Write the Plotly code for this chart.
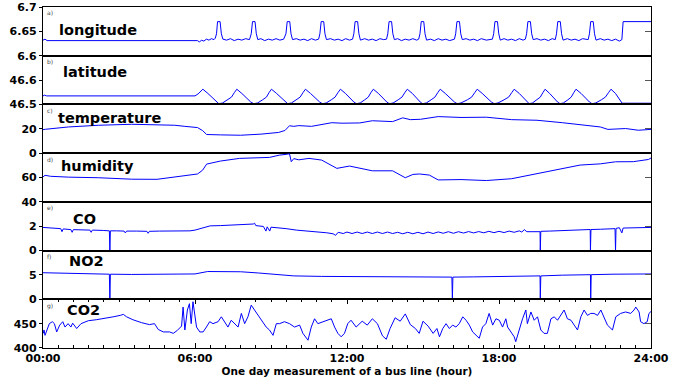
import plotly.graph_objects as go

# ---------------- data (hours since 00:00, measured values) ----------------
lon_hours = [0.00, 0.08, 0.16, 2.0, 4.0, 5.9, 6.10, 6.18, 6.25, 6.35, 6.45, 6.55, 6.65, 6.75, 6.80,
             6.85, 6.89, 6.99, 7.04, 7.10, 7.25, 7.40, 7.55, 7.70, 7.85, 8.00, 8.15,
             8.22, 8.27, 8.37, 8.42, 8.48, 8.60, 8.75, 8.90, 9.05, 9.20, 9.35, 9.50,
             9.59, 9.64, 9.74, 9.79, 9.85, 10.00, 10.15, 10.30, 10.45, 10.60, 10.75, 10.88,
             10.93, 10.98, 11.08, 11.13, 11.19, 11.35, 11.50, 11.65, 11.80, 11.95, 12.10, 12.22,
             12.27, 12.32, 12.42, 12.47, 12.53, 12.70, 12.85, 13.00, 13.15, 13.30, 13.45, 13.56,
             13.61, 13.66, 13.76, 13.81, 13.87, 14.00, 14.15, 14.30, 14.45, 14.60, 14.75, 14.83,
             14.88, 14.93, 15.03, 15.08, 15.14, 15.30, 15.45, 15.60, 15.75, 15.90, 16.05, 16.24,
             16.29, 16.34, 16.44, 16.49, 16.55, 16.70, 16.85, 17.00, 17.15, 17.30, 17.50, 17.74,
             17.79, 17.84, 17.94, 17.99, 18.05, 18.20, 18.35, 18.50, 18.65, 18.80, 18.95, 19.04,
             19.09, 19.14, 19.24, 19.29, 19.35, 19.50, 19.65, 19.80, 19.95, 20.10, 20.22,
             20.27, 20.32, 20.42, 20.47, 20.53, 20.70, 20.85, 21.00, 21.15, 21.30, 21.52,
             21.57, 21.62, 21.72, 21.77, 21.83, 22.00, 22.15, 22.30, 22.45, 22.60, 22.75, 22.85,
             22.90, 24.00]
lon_values = [6.632, 6.634, 6.631, 6.631, 6.631, 6.631, 6.631, 6.628, 6.632, 6.630, 6.634, 6.632, 6.635, 6.633, 6.636,
              6.645, 6.670, 6.670, 6.645, 6.634, 6.632, 6.635, 6.631, 6.634, 6.632, 6.635, 6.633,
              6.645, 6.670, 6.670, 6.645, 6.633, 6.635, 6.631, 6.634, 6.632, 6.635, 6.632, 6.634,
              6.645, 6.670, 6.670, 6.645, 6.633, 6.635, 6.632, 6.634, 6.631, 6.635, 6.632, 6.634,
              6.645, 6.670, 6.670, 6.645, 6.633, 6.635, 6.632, 6.634, 6.631, 6.635, 6.632, 6.634,
              6.645, 6.670, 6.670, 6.645, 6.632, 6.635, 6.632, 6.634, 6.631, 6.635, 6.633, 6.634,
              6.645, 6.670, 6.670, 6.645, 6.633, 6.635, 6.631, 6.634, 6.632, 6.635, 6.632, 6.634,
              6.645, 6.670, 6.670, 6.645, 6.632, 6.634, 6.631, 6.635, 6.632, 6.634, 6.631, 6.634,
              6.645, 6.670, 6.670, 6.645, 6.633, 6.635, 6.632, 6.634, 6.631, 6.635, 6.632, 6.634,
              6.645, 6.670, 6.670, 6.645, 6.632, 6.635, 6.632, 6.634, 6.631, 6.635, 6.632, 6.634,
              6.645, 6.670, 6.670, 6.645, 6.633, 6.635, 6.632, 6.634, 6.631, 6.635, 6.633,
              6.645, 6.670, 6.670, 6.645, 6.632, 6.635, 6.632, 6.634, 6.631, 6.635, 6.633,
              6.645, 6.670, 6.670, 6.645, 6.632, 6.635, 6.632, 6.634, 6.631, 6.634, 6.630, 6.633,
              6.670, 6.670]

lat_hours = [0.00, 0.06, 0.14, 6.00, 6.12, 6.22, 6.31,
             6.51, 6.71, 6.86, 6.94, 7.09, 7.29, 7.44, 7.55, 7.65,
             7.85, 8.05, 8.20, 8.32, 8.47, 8.67, 8.82, 8.92, 9.02,
             9.22, 9.42, 9.56, 9.66, 9.81, 10.00, 10.15, 10.26, 10.36,
             10.56, 10.76, 10.92, 11.03, 11.18, 11.38, 11.53, 11.64, 11.74,
             11.94, 12.12, 12.27, 12.37, 12.52, 12.70, 12.84, 12.94, 13.04,
             13.24, 13.42, 13.57, 13.67, 13.82, 14.02, 14.17, 14.28, 14.38,
             14.58, 14.76, 14.89, 14.98, 15.13, 15.32, 15.47, 15.58, 15.68,
             15.88, 16.08, 16.24, 16.35, 16.50, 16.75, 16.92, 17.04, 17.14,
             17.34, 17.54, 17.70, 17.81, 17.96, 18.20, 18.38, 18.50, 18.60,
             18.80, 18.98, 19.10, 19.19, 19.32, 19.50, 19.63, 19.73, 19.82,
             20.00, 20.17, 20.31, 20.41, 20.54, 20.72, 20.85, 20.95, 21.04,
             21.24, 21.42, 21.57, 21.67, 21.82, 22.04, 22.20, 22.32, 22.42,
             22.60, 22.72, 22.80, 22.86, 24.00]
lat_values = [46.535, 46.538, 46.535, 46.535, 46.543, 46.552, 46.5625,
              46.545, 46.524, 46.510, 46.503, 46.506, 46.519, 46.530, 46.548, 46.5625,
              46.545, 46.524, 46.510, 46.503, 46.506, 46.519, 46.530, 46.548, 46.5625,
              46.545, 46.524, 46.510, 46.503, 46.506, 46.519, 46.530, 46.548, 46.5625,
              46.545, 46.524, 46.510, 46.503, 46.506, 46.519, 46.530, 46.548, 46.5625,
              46.545, 46.524, 46.510, 46.503, 46.506, 46.519, 46.530, 46.548, 46.5625,
              46.545, 46.524, 46.510, 46.503, 46.506, 46.519, 46.530, 46.548, 46.5625,
              46.545, 46.524, 46.510, 46.503, 46.506, 46.519, 46.530, 46.548, 46.5625,
              46.545, 46.524, 46.510, 46.503, 46.506, 46.519, 46.530, 46.548, 46.5625,
              46.545, 46.524, 46.510, 46.503, 46.506, 46.519, 46.530, 46.548, 46.5625,
              46.545, 46.524, 46.510, 46.503, 46.506, 46.519, 46.530, 46.548, 46.5625,
              46.545, 46.524, 46.510, 46.503, 46.506, 46.519, 46.530, 46.548, 46.5625,
              46.545, 46.524, 46.510, 46.503, 46.506, 46.519, 46.530, 46.548, 46.5625,
              46.545, 46.524, 46.510, 46.505, 46.505]

temp_hours = [0.0, 0.1, 1.0, 2.2, 3.5, 4.5, 5.2, 5.6, 6.1, 6.3, 6.46, 7.0, 7.8, 8.6, 9.3, 9.55, 9.73,
              9.9, 10.1, 10.6, 11.0, 11.4, 11.8, 12.5, 13.0, 13.5, 13.8, 14.2, 14.5, 14.9, 15.6,
              16.5, 17.5, 18.5, 19.5, 20.5, 21.0, 21.5, 22.0, 22.3, 23.0, 23.5, 24.0]
temp_values = [19.3, 19.6, 21.5, 22.9, 23.7, 23.5, 22.9, 22.0, 21.0, 18.5, 15.3, 15.0, 14.7, 15.6, 17.0, 18.6, 22.5,
               22.0, 22.6, 22.0, 23.5, 25.0, 24.6, 24.8, 26.6, 26.4, 25.9, 29.0, 27.5, 27.8, 30.0,
               29.3, 29.5, 27.5, 27.0, 25.0, 24.0, 22.5, 21.5, 19.5, 20.2, 18.8, 19.5]

hum_hours = [0.0, 0.08, 0.3, 1.0, 2.2, 3.5, 4.5, 5.4, 6.1, 6.3, 6.46, 7.0, 7.76, 8.94, 9.34, 9.6, 9.73,
             9.8, 9.9, 10.1, 10.5, 11.0, 11.3, 11.6, 12.1, 12.6, 13.0, 13.8, 14.3, 14.6, 14.86, 15.25,
             15.6, 16.5, 17.5, 18.5, 19.6, 20.3, 21.2, 22.0, 22.6, 23.3, 23.9, 24.0]
hum_values = [60.5, 61.8, 61.0, 60.3, 59.8, 58.6, 58.5, 61.0, 62.9, 66.0, 71.0, 73.5, 75.7, 76.5, 78.4, 79.0, 79.5,
              73.0, 75.5, 74.5, 75.7, 74.3, 71.0, 67.5, 69.4, 67.0, 65.5, 65.5, 59.8, 62.5, 62.9, 62.0,
              58.0, 58.3, 57.5, 59.0, 63.4, 66.0, 70.2, 71.2, 72.9, 73.0, 74.8, 76.0]

co_hours = [0.00, 0.40, 0.55, 0.70, 0.75, 0.80, 1.10, 1.15, 1.20, 1.50, 1.85, 1.90, 1.95, 2.40, 2.62, 2.64, 2.66,
            2.90, 3.20, 3.25, 3.30, 3.70, 4.10, 4.15, 4.20, 4.60, 5.00, 5.40, 5.80, 6.00, 6.30, 6.60,
            7.00, 7.50, 8.00, 8.30, 8.35, 8.40, 8.70, 8.80, 8.85, 8.95, 9.00, 9.40, 9.60, 10.00, 10.40,
            10.80, 11.20, 11.45, 11.55, 11.65, 11.85, 12.00, 12.20, 12.40, 12.60, 12.80, 13.00, 13.20,
            13.40, 13.60, 13.80, 14.00, 14.20, 14.40, 14.60, 14.80, 15.00, 15.20, 15.40, 15.60, 15.80,
            16.00, 16.20, 16.40, 16.60, 16.80, 17.00, 17.20, 17.40, 17.60, 17.80, 18.00, 18.20, 18.40,
            18.60, 18.80, 18.90, 19.00, 19.10, 19.30, 19.50, 19.62, 19.63, 19.65, 20.00, 20.50, 21.00,
            21.50, 21.60, 21.61, 21.63, 22.00, 22.40, 22.58, 22.60, 22.62, 22.75, 22.85, 22.90, 23.50, 24.00]
co_values = [1.90, 1.85, 1.78, 1.80, 1.55, 1.78, 1.72, 1.50, 1.72, 1.70, 1.68, 1.50, 1.68, 1.65, 1.62, 0.00, 1.62,
             1.62, 1.60, 1.45, 1.60, 1.60, 1.58, 1.42, 1.58, 1.60, 1.60, 1.60, 1.62, 1.68, 1.85, 2.03,
             2.05, 2.08, 2.10, 2.18, 2.25, 2.05, 1.98, 1.60, 1.95, 1.60, 1.92, 1.88, 1.80, 1.68, 1.62,
             1.50, 1.46, 1.38, 1.25, 1.50, 1.40, 1.52, 1.40, 1.52, 1.40, 1.52, 1.40, 1.52,
             1.40, 1.52, 1.40, 1.50, 1.38, 1.50, 1.38, 1.50, 1.38, 1.52, 1.40, 1.53, 1.42,
             1.55, 1.42, 1.55, 1.44, 1.56, 1.45, 1.56, 1.46, 1.58, 1.47, 1.58, 1.48, 1.60,
             1.50, 1.62, 1.52, 1.72, 1.55, 1.55, 1.55, 1.55, 0.00, 1.58, 1.60, 1.65, 1.70,
             1.73, 1.73, 0.00, 1.73, 1.75, 1.78, 1.80, 0.00, 1.82, 1.88, 1.45, 1.85, 1.85, 1.90]

no2_hours = [0.0, 1.0, 2.0, 2.62, 2.64, 2.66, 3.5, 4.5, 5.4, 6.0, 6.5, 7.8, 8.5, 9.2, 9.9, 11.0, 13.0, 15.0,
             16.14, 16.16, 16.18, 17.0, 18.5, 19.62, 19.63, 19.65, 20.5, 21.61, 21.62, 21.64, 22.5, 24.0]
no2_values = [5.45, 5.30, 5.20, 5.15, 0.0, 5.15, 5.10, 5.10, 5.10, 5.20, 5.70, 5.65, 5.40, 5.10, 4.80, 4.70, 4.65, 4.60,
              4.55, 0.0, 4.55, 4.60, 4.70, 4.80, 0.0, 4.80, 4.95, 5.05, 0.0, 5.05, 5.15, 5.20]

co2_hours = [0.01, 0.04, 0.08, 0.25, 0.37, 0.45, 0.54, 0.66, 0.78, 0.87, 0.99, 1.10, 1.17, 1.33, 1.50, 1.79,
             2.10, 2.40, 2.77, 3.05, 3.17, 3.30, 3.55, 3.89, 4.20, 4.40, 4.55, 4.75, 5.00, 5.14, 5.30, 5.47,
             5.53, 5.60, 5.70, 5.78, 5.85, 5.92, 5.99, 6.06, 6.19, 6.32, 6.45, 6.58, 6.71, 6.91, 7.04, 7.17,
             7.30, 7.43, 7.56, 7.70, 7.83, 7.96, 8.09, 8.22, 8.35, 8.49, 8.62, 8.81, 8.94, 9.08, 9.21, 9.34,
             9.53, 9.73, 9.93, 10.13, 10.26, 10.39, 10.46, 10.59, 10.72, 10.85, 11.05, 11.24, 11.38, 11.51,
             11.64, 11.77, 11.90, 12.03, 12.16, 12.36, 12.60, 12.80, 13.00, 13.20, 13.40, 13.55, 13.70, 13.90,
             14.10, 14.30, 14.50, 14.70, 14.85, 15.00, 15.20, 15.40, 15.55, 15.65, 15.78, 15.91, 16.04, 16.17,
             16.30, 16.43, 16.57, 16.70, 16.83, 16.96, 17.09, 17.22, 17.35, 17.48, 17.61, 17.75, 17.88, 18.01,
             18.14, 18.27, 18.34, 18.47, 18.60, 18.66, 18.80, 18.93, 19.06, 19.12, 19.26, 19.39, 19.52, 19.65,
             19.78, 19.91, 20.05, 20.18, 20.31, 20.44, 20.57, 20.70, 20.84, 20.97, 21.10, 21.23, 21.36, 21.49,
             21.62, 21.75, 21.89, 22.02, 22.15, 22.28, 22.48, 22.61, 22.80, 23.00, 23.20, 23.33, 23.40, 23.53,
             23.59, 23.72, 23.85, 23.92, 24.00]
co2_values = [430, 437, 426, 450, 454, 450, 433, 447, 454, 443, 450, 443, 451, 440, 450, 456,
              458, 460, 464, 467, 469, 464, 458, 452, 448, 450, 438, 433, 433, 430, 436, 445,
              484, 437, 478, 491, 450, 495, 470, 443, 433, 433, 443, 454, 450, 454, 464, 454,
              443, 457, 450, 443, 471, 450, 464, 488, 478, 467, 457, 443, 437, 426, 450, 450,
              454, 450, 443, 447, 430, 420, 416, 443, 460, 450, 454, 457, 460, 443,
              430, 423, 430, 450, 457, 443, 455, 447, 460, 450, 425, 418, 440, 462,
              455, 470, 448, 440, 430, 455, 445, 430, 440, 423, 440, 450, 440, 447,
              443, 450, 464, 457, 447, 433, 426, 420, 443, 450, 471, 447, 460, 457,
              443, 460, 443, 433, 423, 413, 440, 460, 478, 450, 474, 457, 464, 437,
              430, 430, 460, 464, 457, 467, 478, 460, 457, 447, 437, 464, 478, 467,
              471, 471, 467, 478, 464, 447, 437, 464, 471, 474, 471, 478, 484, 474,
              454, 450, 454, 471, 475]

panel_names = ["longitude", "latitude", "temperature", "humidity", "CO", "NO2", "CO2"]
panel_letters = ["a)", "b)", "c)", "d)", "e)", "f)", "g)"]
panel_ranges = [[6.6, 6.7], [46.5, 46.7], [0, 40], [40, 80], [0, 4], [0, 10], [400, 500]]
panel_tickvals = [[6.6, 6.65, 6.7], [46.5, 46.6], [0, 20], [40, 60], [0, 2], [0, 5], [400, 450]]
panel_ticktext = [["6.6", "6.65", "6.7"], ["46.5", "46.6"], ["0", "20"], ["40", "60"], ["0", "2"], ["0", "5"], ["400", "450"]]
x_tickvals = [0, 6, 12, 18, 24]
x_ticktext = ["00:00", "06:00", "12:00", "18:00", "24:00"]
x_title = "One day measurement of a bus line (hour)"

series = [(lon_hours, lon_values), (lat_hours, lat_values), (temp_hours, temp_values),
          (hum_hours, hum_values), (co_hours, co_values), (no2_hours, no2_values),
          (co2_hours, co2_values)]

# label placement inside each panel (fraction of panel)
title_pos = [(0.023, 0.52), (0.030, 0.67), (0.022, 0.72), (0.026, 0.73), (0.046, 0.64), (0.039, 0.78), (0.037, 0.78)]

FONT = "DejaVu Sans"
LINE_COLOR = "#0000ff"
N = 7

fig = go.Figure()
layout = dict(
    width=697, height=385,
    margin=dict(l=43, r=46, t=7, b=37, autoexpand=False),
    paper_bgcolor="white", plot_bgcolor="white",
    showlegend=False,
    font=dict(family=FONT, color="black"),
)
annotations = []

for i in range(N):
    k = i + 1
    xs = "" if k == 1 else str(k)
    hx, vy = series[i]
    fig.add_trace(go.Scatter(x=hx, y=vy, mode="lines",
                             line=dict(color=LINE_COLOR, width=1),
                             xaxis="x" + xs, yaxis="y" + xs, hoverinfo="skip"))
    # empty trace for the right-hand tick axis
    fig.add_trace(go.Scatter(x=[], y=[], xaxis="x" + xs, yaxis="y" + str(k + N), hoverinfo="skip"))
    top = 1 - i / N
    bot = 1 - (i + 1) / N
    is_bottom = (i == N - 1)
    xa = dict(domain=[0, 1], range=[0, 24], anchor="y" + xs, automargin=False,
              showline=True, linecolor="black", linewidth=1.2,
              showgrid=False, zeroline=False, fixedrange=True)
    if is_bottom:
        xa.update(mirror="ticks", ticks="inside", ticklen=5, tickwidth=1, tickcolor="black",
                  tickmode="array", tickvals=x_tickvals, ticktext=x_ticktext,
                  tickfont=dict(family=FONT, size=11, color="black", weight="bold"),
                  minor=dict(tickmode="linear", tick0=0, dtick=0.6, ticks="inside",
                             ticklen=2.5, tickcolor="black", showgrid=False),
                  title=dict(text=x_title, standoff=3,
                             font=dict(family=FONT, size=10.5, color="black", weight="bold")))
    else:
        xa.update(mirror=True, ticks="", showticklabels=False, matches="x" + str(N))
    layout["xaxis" + xs] = xa
    layout["yaxis" + xs] = dict(domain=[bot, top], range=panel_ranges[i], anchor="x" + xs,
                                automargin=False,
                                showline=True, mirror=True, linecolor="black", linewidth=1.2,
                                ticks="outside", ticklen=3, tickwidth=1, tickcolor="black",
                                tickmode="array", tickvals=panel_tickvals[i], ticktext=panel_ticktext[i],
                                tickfont=dict(family=FONT, size=11, color="black", weight="bold"),
                                showgrid=False, zeroline=False, fixedrange=True)
    layout["yaxis" + str(k + N)] = dict(overlaying="y" + xs, side="right", anchor="x" + xs,
                                        automargin=False,
                                        range=panel_ranges[i], showline=False,
                                        ticks="inside", ticklen=6, tickwidth=1, tickcolor="#555",
                                        tickmode="array", tickvals=panel_tickvals[i],
                                        showticklabels=False, showgrid=False, zeroline=False,
                                        fixedrange=True)
    tx, ty = title_pos[i]
    annotations.append(dict(text="<b>" + panel_names[i] + "</b>", xref="x" + xs + " domain",
                            yref="y" + xs + " domain", x=tx, y=ty, xanchor="left", yanchor="middle",
                            showarrow=False, font=dict(family=FONT, size=14.5, color="black")))
    annotations.append(dict(text=panel_letters[i], xref="x" + xs + " domain",
                            yref="y" + xs + " domain", x=0.004, y=0.99, xanchor="left", yanchor="top",
                            showarrow=False, font=dict(family=FONT, size=6, color="#444")))

layout["annotations"] = annotations
fig.update_layout(**layout)
fig.write_html("out.html", config={"displayModeBar": False},
               post_script="document.body.style.margin='0';document.body.style.padding='0';")
